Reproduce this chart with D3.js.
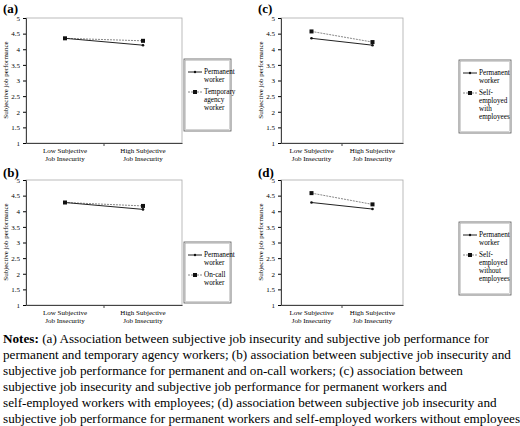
<!DOCTYPE html><html><head><meta charset="utf-8">
<script src="https://d3js.org/d3.v7.min.js"></script>
<style>body{margin:0;background:#fff}svg{font-family:"Liberation Serif","Times New Roman",serif}</style>
</head><body><svg id="c" width="520" height="426"></svg><script>
const categories=["Low Subjective|Job Insecurity","High Subjective|Job Insecurity"];
const yTicks=[1,1.5,2,2.5,3,3.5,4,4.5,5];
const panelLabels=["(a)","(b)","(c)","(d)"];
const permanent=[[4.35,4.13],[4.28,4.06],[4.35,4.13],[4.28,4.07]];
const other=[[4.35,4.27],[4.28,4.17],[4.57,4.23],[4.58,4.22]];
const otherNames=["Temporary|agency|worker","On-call|worker","Self-|employed|with|employees","Self-|employed|without|employees"];
const notes=["(a) Association between subjective job insecurity and subjective job performance for","permanent and temporary agency workers; (b) association between subjective job insecurity and","subjective job performance for permanent and on-call workers; (c) association between","subjective job insecurity and subjective job performance for permanent workers and","self-employed workers with employees; (d) association between subjective job insecurity and","subjective job performance for permanent workers and self-employed workers without employees"];

const svg=d3.select("#c");
const origins=[[0,0],[0,162],[255,0],[255,162]];
const legX=[[184,231],[184,231],[459,511],[459,511]];
const legY=[[59,72],[80,61],[60,73],[60,73]];
panelLabels.forEach((lab,i)=>{
  const [ox,oy]=origins[i];
  const g=svg.append("g").attr("transform",`translate(${ox},${oy})`);
  g.append("text").attr("x",3).attr("y",i%2?15:13).attr("font-weight","bold").attr("font-size",13).text(lab);
  const x0=26, x1=i<2?182:148;
  const x=d3.scaleBand().domain(categories).range([x0,x1]);
  const y=d3.scaleLinear().domain([1,5]).range([143,18]);
  g.append("rect").attr("x",x0).attr("y",18).attr("width",x1-x0).attr("height",125).attr("fill","none").attr("stroke","#aaa").attr("stroke-width",0.8);
  const ya=g.append("g").attr("transform",`translate(${x0},0)`).call(d3.axisLeft(y).tickValues(yTicks).tickSize(3).tickFormat(d3.format("")));
  ya.selectAll("text").attr("font-size",7).attr("font-family","Liberation Serif");
  ya.select(".domain").attr("stroke","#444");
  const xa=g.append("g").attr("transform","translate(0,143)").call(d3.axisBottom(x).tickSize(0).tickFormat(""));
  xa.select(".domain").attr("stroke","#444");
  g.append("line").attr("x1",(x0+x1)/2).attr("x2",(x0+x1)/2).attr("y1",143).attr("y2",146).attr("stroke","#444");
  categories.forEach(c=>{
    c.split("|").forEach((t,k)=>g.append("text").attr("x",x(c)+x.bandwidth()/2).attr("y",153+k*8).attr("text-anchor","middle").attr("font-size",7).text(t));
  });
  g.append("text").attr("transform",`translate(8,80) rotate(-90)`).attr("text-anchor","middle").attr("font-size",7).text("Subjective job performance");
  const line=d3.line().x((d,j)=>x(categories[j])+x.bandwidth()/2).y(d=>y(d));
  g.append("path").attr("d",line(other[i])).attr("fill","none").attr("stroke","#888").attr("stroke-dasharray","2,1").attr("stroke-width",1);
  g.append("path").attr("d",line(permanent[i])).attr("fill","none").attr("stroke","#222").attr("stroke-width",1);
  other[i].forEach((v,j)=>g.append("rect").attr("x",x(categories[j])+x.bandwidth()/2-2).attr("y",y(v)-2).attr("width",4).attr("height",4).attr("fill","#111"));
  permanent[i].forEach((v,j)=>g.append("circle").attr("cx",x(categories[j])+x.bandwidth()/2).attr("cy",y(v)).attr("r",1.3).attr("fill","#111"));
  const lx=legX[i][0]-ox, lw=legX[i][1]-legX[i][0];
  const [ly,lh]=legY[i];
  const names=otherNames[i].split("|");
  g.append("rect").attr("x",lx).attr("y",ly).attr("width",lw).attr("height",lh).attr("fill","#fff").attr("stroke","#555").attr("stroke-width",0.8);
  g.append("rect").attr("x",lx+1.5).attr("y",ly+1.5).attr("width",lw-3).attr("height",lh-3).attr("fill","none").attr("stroke","#aaa").attr("stroke-width",0.5);
  const py=ly+13;
  g.append("line").attr("x1",lx+4).attr("x2",lx+18).attr("y1",py).attr("y2",py).attr("stroke","#222");
  g.append("circle").attr("cx",lx+11).attr("cy",py).attr("r",1.2).attr("fill","#111");
  ["Permanent","worker"].forEach((t,k)=>g.append("text").attr("x",lx+20).attr("y",py+2+k*8).attr("font-size",7.2).text(t));
  const sy=ly+33;
  g.append("line").attr("x1",lx+4).attr("x2",lx+18).attr("y1",sy).attr("y2",sy).attr("stroke","#888").attr("stroke-dasharray","2,1");
  g.append("rect").attr("x",lx+9).attr("y",sy-2).attr("width",4).attr("height",4).attr("fill","#111");
  names.forEach((t,k)=>g.append("text").attr("x",lx+20).attr("y",sy+2+k*8).attr("font-size",7.2).text(t));
});
const nt=svg.append("g").attr("font-size",13.2);
notes.forEach((t,k)=>{
  const tx=nt.append("text").attr("x",3).attr("y",343+k*16);
  if(k===0){tx.append("tspan").attr("font-weight","bold").text("Notes: ");}
  tx.append("tspan").text(t);
});
</script></body></html>
